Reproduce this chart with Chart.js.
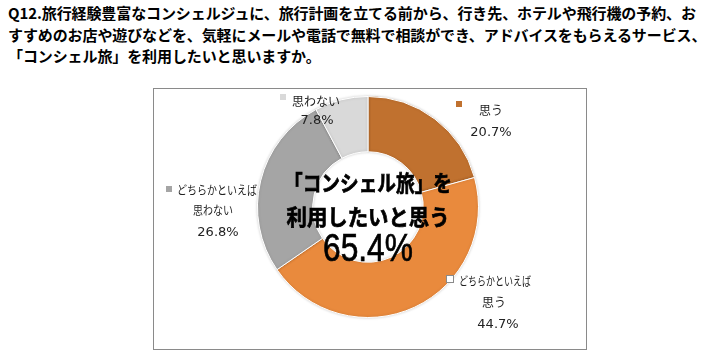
<!DOCTYPE html>
<html>
<head>
<meta charset="utf-8">
<script src="https://cdn.jsdelivr.net/npm/chart.js@4/dist/chart.umd.min.js"></script>
<style>
  html, body { margin: 0; padding: 0; background: #fff; width: 724px; height: 355px; overflow: hidden; }
  #title {
    position: absolute; left: 8px; top: 2px; width: 716px;
    font-family: "Noto Sans CJK JP", sans-serif; font-weight: bold; font-size: 15px;
    line-height: 21.5px; color: #000; white-space: pre; letter-spacing: -0.1px;
  }
  #box {
    position: absolute; left: 153px; top: 88px; width: 432px; height: 260px;
    border: 1.5px solid #8a8a8a;
  }
  #wrap { position: absolute; left: 0; top: 0; width: 724px; height: 355px; }
</style>
</head>
<body>
<div id="title"></div>
<div id="box"></div>
<div id="wrap"><canvas id="c" width="724" height="355"></canvas></div>
<script>
// ---- data ----
const titleLines = [
  'Q12.旅行経験豊富なコンシェルジュに、旅行計画を立てる前から、行き先、ホテルや飛行機の予約、お',
  'すすめのお店や遊びなどを、気軽にメールや電話で無料で相談ができ、アドバイスをもらえるサービス、',
  '「コンシェル旅」を利用したいと思いますか。'
];
const categories = [['思う'], ['どちらかといえば', '思う'], ['どちらかといえば', '思わない'], ['思わない']];
const values = [20.7, 44.7, 26.8, 7.8];
const centerLines = ['「コンシェル旅」を', '利用したいと思う'];
const centerValue = values[0] + values[1];

// ---- styles ----
const colors = ['#C0712F', '#E98A3D', '#A5A5A5', '#D9D9D9'];
const markerColors = ['#C0712F', '#FFFFFF', '#A5A5A5', '#D9D9D9'];

document.getElementById('title').textContent = titleLines.join('\n');

// label layout, offsets from the doughnut centre: marker [dx,dy], text lines [dx,dy,maxWidth]
const labelLayout = [
  { marker: [91, -103], lines: [[123, -97, 30]], value: [123, -74] },
  { marker: [82, 72], lines: [[127, 74, 72], [126, 95, 30]], value: [130, 118] },
  { marker: [-199, -18], lines: [[-151, -17, 80], [-155, 3, 40]], value: [-150, 26] },
  { marker: [-85, -110], lines: [[-52, -106, 48]], value: [-51, -86] }
];

const labelPlugin = {
  id: 'labelPlugin',
  afterDatasetsDraw(chart) {
    const ctx = chart.ctx;
    const meta = chart.getDatasetMeta(0);
    const arc0 = meta.data[0];
    const cx = arc0.x, cy = arc0.y;
    ctx.save();
    ctx.textAlign = 'center';
    ctx.textBaseline = 'middle';
    // outside labels
    meta.data.forEach((arc, i) => {
      const L = labelLayout[i];
      const mx = cx + L.marker[0], my = cy + L.marker[1];
      ctx.fillStyle = markerColors[i];
      ctx.fillRect(mx - 3, my - 3, 6, 6);
      if (markerColors[i] === '#FFFFFF') {
        ctx.strokeStyle = '#8a8a8a';
        ctx.lineWidth = 1;
        ctx.strokeRect(mx - 3.5, my - 3.5, 7, 7);
      }
      ctx.fillStyle = '#222';
      ctx.font = '12px "Noto Sans CJK JP", sans-serif';
      const lines = chart.data.labels[i];
      lines.forEach((t, k) => {
        const p = L.lines[k];
        ctx.fillText(t, cx + p[0], cy + p[1], p[2]);
      });
      ctx.font = '13px "DejaVu Sans", sans-serif';
      const v = chart.data.datasets[0].data[i];
      ctx.fillText(v.toFixed(1) + '%', cx + L.value[0], cy + L.value[1]);
    });
    // centre text
    ctx.fillStyle = '#000';
    ctx.strokeStyle = '#000';
    ctx.lineWidth = 0.7;
    ctx.font = 'bold 22px "Noto Sans CJK JP", sans-serif';
    ctx.fillText(centerLines[0], cx, cy - 24, 168);
    ctx.strokeText(centerLines[0], cx, cy - 24, 168);
    ctx.fillText(centerLines[1], cx, cy + 10, 163);
    ctx.strokeText(centerLines[1], cx, cy + 10, 163);
    ctx.font = '39px "Liberation Sans Narrow", "Liberation Sans", Arial, sans-serif';
    ctx.fillText(centerValue.toFixed(1) + '%', cx, cy + 43, 90);
    ctx.strokeText(centerValue.toFixed(1) + '%', cx, cy + 43, 90);
    ctx.restore();
  }
};

const shadowPlugin = {
  id: 'shadowPlugin',
  beforeDatasetsDraw(chart) {
    chart.ctx.save();
    chart.ctx.shadowColor = 'rgba(0,0,0,0.18)';
    chart.ctx.shadowBlur = 3;
  },
  afterDatasetsDraw(chart) {
    chart.ctx.restore();
  }
};

new Chart(document.getElementById('c'), {
  type: 'doughnut',
  data: {
    labels: categories,
    datasets: [{
      data: values,
      backgroundColor: colors,
      borderColor: '#ffffff',
      borderWidth: 1
    }]
  },
  options: {
    responsive: false,
    animation: false,
    cutout: '50%',
    rotation: 0,
    layout: { padding: { left: 257, right: 245, top: 96, bottom: 37 } },
    plugins: {
      legend: { display: false },
      tooltip: { enabled: false }
    }
  },
  plugins: [shadowPlugin, labelPlugin]
});
</script>
</body>
</html>
